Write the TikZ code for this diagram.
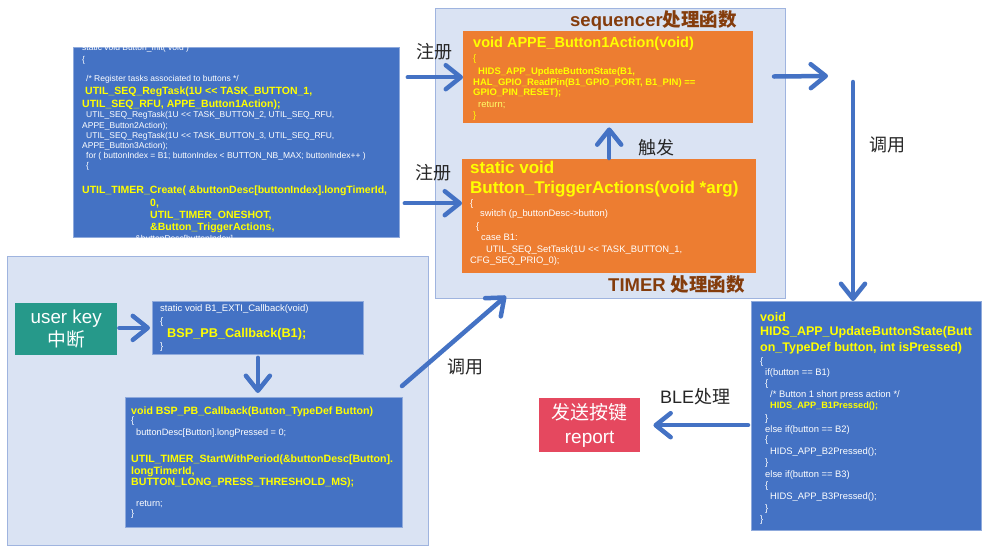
\documentclass[tikz,border=0pt]{standalone}
\usepackage{fontspec}
\setmainfont{Liberation Sans}
\newfontfamily\cjk{Noto Sans CJK SC}
\usetikzlibrary{arrows.meta}
\newcommand\shl{<\kern0pt<}
\definecolor{blu}{HTML}{4472C4}
\definecolor{bluedraw}{HTML}{8FAADC}
\definecolor{panelfill}{HTML}{DAE3F3}
\definecolor{paneldraw}{HTML}{9FB4DF}
\definecolor{org}{HTML}{ED7D31}
\definecolor{codey}{HTML}{FFFF00}
\definecolor{grn}{HTML}{26998A}
\definecolor{redb}{HTML}{E5485F}
\definecolor{brownt}{HTML}{843C0C}
\definecolor{arrc}{HTML}{4472C4}
\definecolor{labc}{HTML}{262626}
\tikzset{
  box/.style={rectangle, inner sep=0pt, anchor=north west},
  bluebox/.style={box, fill=blu, draw=bluedraw, line width=0.8pt},
  panel/.style={box, fill=panelfill, draw=paneldraw, line width=1pt},
  obox/.style={box, fill=org},
  ctext/.style={anchor=base west, inner sep=0pt, text=white, font=\fontsize{#1}{#1}\selectfont},
  ytext/.style={anchor=base west, inner sep=0pt, text=codey, font=\bfseries\fontsize{#1}{#1}\selectfont},
  arr/.style={draw=arrc, line width=4.5pt, line cap=round, -{Straight Barb[length=15pt,width=24pt,round]}},
  lab/.style={font=\cjk\fontsize{18}{20}\selectfont, text=labc, inner sep=0pt},
  ttl/.style={anchor=west, font=\bfseries\fontsize{18.5}{20}\selectfont, text=brownt, inner sep=0pt},
}
\begin{document}
\begin{tikzpicture}[x=1pt,y=-1pt]
\fill[white] (0,0) rectangle (1000,555);
\useasboundingbox (0,0) rectangle (1000,555);

% panels
\node[panel, minimum width=350pt, minimum height=290pt] (tp) at (435,8) {};
\node[panel, minimum width=421pt, minimum height=289pt] (bp) at (7,256) {};

% titles
\node[ttl] (t1) at (570,20) {sequencer{\cjk\bfseries 处理函数}};
\node[ttl] (t2) at (608,285) {TIMER {\cjk\bfseries 处理函数}};

% top-left code box
\node[bluebox, minimum width=326pt, minimum height=190pt] (tl) at (73,47) {};
\begin{scope}
\clip (73,47) rectangle (399,237);
\node[ctext=8.5] (tl1) at (82,50) {static void Button\_Init( void )};
\node[ctext=8.5] (tl2) at (82,62) {\{};
\node[ctext=8.5] (tl3) at (86,81) {/* Register tasks associated to buttons */};
\node[ytext=10.5] (tl4) at (85,94) {UTIL\_SEQ\_RegTask(1U \shl{} TASK\_BUTTON\_1,};
\node[ytext=10.5] (tl5) at (82,107) {UTIL\_SEQ\_RFU, APPE\_Button1Action);};
\node[ctext=8.5] (tl6) at (86,117) {UTIL\_SEQ\_RegTask(1U \shl{} TASK\_BUTTON\_2, UTIL\_SEQ\_RFU,};
\node[ctext=8.5] (tl7) at (82,128) {APPE\_Button2Action);};
\node[ctext=8.5] (tl8) at (86,138) {UTIL\_SEQ\_RegTask(1U \shl{} TASK\_BUTTON\_3, UTIL\_SEQ\_RFU,};
\node[ctext=8.5] (tl9) at (82,148) {APPE\_Button3Action);};
\node[ctext=8.5] (tl10) at (86,158) {for ( buttonIndex = B1; buttonIndex < BUTTON\_NB\_MAX; buttonIndex++ )};
\node[ctext=8.5] (tl11) at (86,168) {\{};
\node[ytext=10.5] (tl12) at (82,193) {UTIL\_TIMER\_Create( \&buttonDesc[buttonIndex].longTimerId,};
\node[ytext=10.5] (tl13) at (150,206) {0,};
\node[ytext=10.5] (tl14) at (150,218) {UTIL\_TIMER\_ONESHOT,};
\node[ytext=10.5] (tl15) at (150,230) {\&Button\_TriggerActions,};
\node[ctext=8.5] (tl16) at (135,241) {\&buttonDesc[buttonIndex],};
\end{scope}

% orange box 1
\node[obox, minimum width=290pt, minimum height=92pt] (o1) at (463,31) {};
\node[ytext=14.5] (o1a) at (473,47) {void APPE\_Button1Action(void)};
\node[ctext=9.4, text=codey] (o1b) at (473,61.4) {\{};
\node[ytext=9.5] (o1c) at (478,74.5) {HIDS\_APP\_UpdateButtonState(B1,};
\node[ytext=9.5] (o1d) at (473,85.5) {HAL\_GPIO\_ReadPin(B1\_GPIO\_PORT, B1\_PIN) ==};
\node[ytext=9.5] (o1e) at (473,95.5) {GPIO\_PIN\_RESET);};
\node[ctext=9.4, text=codey!60!white] (o1f) at (478,107.3) {return;};
\node[ctext=9.4, text=codey] (o1g) at (473,118.3) {\}};

% orange box 2
\node[obox, minimum width=294pt, minimum height=114pt] (o2) at (462,159) {};
\node[ytext=17] (o2a) at (470,173) {static void};
\node[ytext=17] (o2b) at (470,193) {Button\_TriggerActions(void *arg)};
\node[ctext=9.4] (o2c) at (470,206.3) {\{};
\node[ctext=9.4] (o2d) at (480,216.3) {switch (p\_buttonDesc->button)};
\node[ctext=9.4] (o2e) at (476,229.3) {\{};
\node[ctext=9.4] (o2f) at (481,240.3) {case B1:};
\node[ctext=9.4] (o2g) at (486,252.3) {UTIL\_SEQ\_SetTask(1U \shl{} TASK\_BUTTON\_1,};
\node[ctext=9.4] (o2h) at (470,263.3) {CFG\_SEQ\_PRIO\_0);};

% user key
\node[box, fill=grn, minimum width=102pt, minimum height=52pt, align=center, text=white,
      font=\fontsize{18.8}{23}\selectfont] (gr) at (15,303) {user key\\{\cjk 中断}};

% EXTI box
\node[bluebox, minimum width=211pt, minimum height=53pt] (ex) at (152,301) {};
\node[ctext=9.5] (ex1) at (160,311.3) {static void B1\_EXTI\_Callback(void)};
\node[ctext=9.5] (ex2) at (160,324.3) {\{};
\node[ytext=12.7] (ex3) at (167,337.5) {BSP\_PB\_Callback(B1);};
\node[ctext=9.5] (ex4) at (160,349.3) {\}};

% BSP box
\node[bluebox, minimum width=277pt, minimum height=130pt] (bsp) at (125,397) {};
\node[ytext=10.6] (b1) at (131,414) {void BSP\_PB\_Callback(Button\_TypeDef Button)};
\node[ctext=9.2] (b2) at (131,423.3) {\{};
\node[ctext=9.2] (b3) at (136,435.3) {buttonDesc[Button].longPressed = 0;};
\node[ytext=10.6] (b4) at (131,462) {UTIL\_TIMER\_StartWithPeriod(\&buttonDesc[Button].};
\node[ytext=10.6] (b5) at (131,474) {longTimerId,};
\node[ytext=10.6] (b6) at (131,485) {BUTTON\_LONG\_PRESS\_THRESHOLD\_MS);};
\node[ctext=9.2] (b7) at (136,506.3) {return;};
\node[ctext=9.2] (b8) at (131,516.3) {\}};

% right box
\node[bluebox, minimum width=230pt, minimum height=229pt] (rb) at (751,301) {};
\node[ytext=12.5] (r1) at (760,321.4) {void};
\node[ytext=12.5] (r2) at (760,335.4) {HIDS\_APP\_UpdateButtonState(Butt};
\node[ytext=12.5] (r3) at (760,351.4) {on\_TypeDef button, int isPressed)};
\node[ctext=9.4] (r4) at (760,364.3) {\{};
\node[ctext=9.4] (r5) at (765,375.3) {if(button == B1)};
\node[ctext=9.4] (r6) at (765,386.3) {\{};
\node[ctext=9.4] (r7) at (770,397.3) {/* Button 1 short press action */};
\node[ytext=9.2] (r8) at (770,408.3) {HIDS\_APP\_B1Pressed();};
\node[ctext=9.4] (r9) at (765,421.3) {\}};
\node[ctext=9.4] (r10) at (765,432.3) {else if(button == B2)};
\node[ctext=9.4] (r11) at (765,442.3) {\{};
\node[ctext=9.4] (r12) at (770,454.3) {HIDS\_APP\_B2Pressed();};
\node[ctext=9.4] (r13) at (765,465.3) {\}};
\node[ctext=9.4] (r14) at (765,477.3) {else if(button == B3)};
\node[ctext=9.4] (r15) at (765,488.3) {\{};
\node[ctext=9.4] (r16) at (770,499.3) {HIDS\_APP\_B3Pressed();};
\node[ctext=9.4] (r17) at (765,511.3) {\}};
\node[ctext=9.4] (r18) at (760,522.3) {\}};

% red box
\node[box, fill=redb, minimum width=101pt, minimum height=54pt, align=center, text=white,
      font=\fontsize{19}{24}\selectfont] (rd) at (539,398) {{\cjk 发送按键}\\report};

% labels
\node[lab] (l1) at (434,52) {注册};
\node[lab] (l2) at (433,173) {注册};
\node[lab] (l3) at (656,148) {触发};
\node[lab] (l4) at (887,145) {调用};
\node[lab] (l5) at (465,367) {调用};
\node[lab] (l6) at (695,397) {{\rmfamily BLE}处理};

% connectors
\coordinate (reg2) at ([yshift=13pt]o2.west);
\coordinate (c1) at (828,76);
\coordinate (c2) at (853,82);
\coordinate (d1) at (402,386);
\coordinate (d2) at (506,296);
\draw[arr, shorten <=8pt] (tl.east |- o1.west) -- (o1.west);
\draw[arr, shorten <=5pt] (tl.east |- reg2) -- (reg2);
\draw[arr, shorten <=1pt, shorten >=4pt] (o2.north) -- (o2.north |- o1.south);
\draw[arr] ([xshift=-12pt,yshift=77pt]tp.east) -- (c1);
\draw[arr] (c2) -- (c2 |- rb.north);
\draw[arr] (d1) -- (d2);
\draw[arr, shorten <=3pt, shorten >=13pt] (rb.west |- rd.east) -- (rd.east);
\draw[arr, shorten <=2pt, shorten >=2pt] (gr.east |- ex.west) -- (ex.west);
\draw[arr, shorten <=3pt, shorten >=4pt] (ex.south) -- (ex.south |- bsp.north);
\end{tikzpicture}
\end{document}
